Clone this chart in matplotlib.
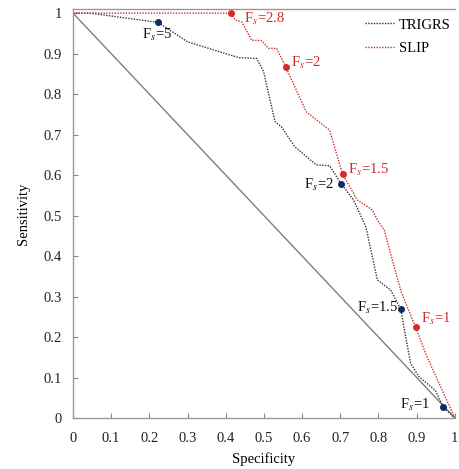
import matplotlib
matplotlib.use("Agg")
import matplotlib.pyplot as plt

plt.rcParams['font.family'] = ['Liberation Serif', 'DejaVu Serif']
plt.rcParams['mathtext.fontset'] = 'stix'

# ROC curves (specificity, sensitivity)
trigrs_x = [0, 0.044, 0.223, 0.25, 0.30, 0.434, 0.481, 0.499, 0.529, 0.546, 0.581,
            0.637, 0.672, 0.702, 0.735, 0.767, 0.797, 0.832, 0.858, 0.884, 0.906,
            0.949, 0.970, 1.0]
trigrs_y = [1.0, 1.0, 0.977, 0.96, 0.929, 0.89, 0.888, 0.856, 0.732, 0.719, 0.67,
            0.625, 0.623, 0.579, 0.538, 0.472, 0.341, 0.316, 0.269, 0.135, 0.102,
            0.068, 0.026, 0.0]
slip_x = [0, 0.414, 0.425, 0.442, 0.468, 0.494, 0.512, 0.533, 0.557, 0.611, 0.672,
          0.706, 0.745, 0.784, 0.797, 0.815, 0.841, 0.858, 0.875, 0.897, 0.927, 1.0]
slip_y = [1.0, 1.0, 0.983, 0.978, 0.933, 0.932, 0.913, 0.913, 0.867, 0.756, 0.711,
          0.602, 0.538, 0.514, 0.489, 0.464, 0.374, 0.316, 0.275, 0.225, 0.151, 0.0]

# factor-of-safety points
trigrs_fs = ['5', '2', '1.5', '1']
trigrs_fs_x = [0.223, 0.702, 0.858, 0.970]
trigrs_fs_y = [0.977, 0.579, 0.269, 0.026]
slip_fs = ['2.8', '2', '1.5', '1']
slip_fs_x = [0.414, 0.557, 0.706, 0.897]
slip_fs_y = [1.0, 0.867, 0.602, 0.225]

red = '#d42a2a'
navy = '#0d2a66'

fig = plt.figure(figsize=(4.59, 4.69), dpi=100)
ax = fig.add_axes([0.159, 0.1087, 0.832, 0.872])

ax.plot([0, 1], [1, 0], color='#7f7f7f', lw=1.0)
ax.plot(trigrs_x, trigrs_y, color='#333333', lw=1.0, ls=(0, (1, 1)), label='TRIGRS')
ax.plot(slip_x, slip_y, color=red, lw=1.0, ls=(0, (1, 1)), label='SLIP')
ax.plot(trigrs_fs_x, trigrs_fs_y, 'o', color=navy, ms=4, ls='none')
ax.plot(slip_fs_x, slip_fs_y, 'o', color=red, ms=4, ls='none')

fs = 10.5
# label placement (x, y, ha) next to each point
trigrs_lab = [(0.182, 0.946, 'left'), (0.683, 0.575, 'right'),
              (0.851, 0.272, 'right'), (0.935, 0.032, 'right')]
slip_lab = [(0.447, 0.985, 'left'), (0.571, 0.877, 'left'),
            (0.721, 0.612, 'left'), (0.912, 0.244, 'left')]
for v, (tx, ty, ha) in zip(trigrs_fs, trigrs_lab):
    ax.text(tx, ty, r'F$_s$=' + v, color='#111111', fontsize=fs, ha=ha, va='center')
for v, (tx, ty, ha) in zip(slip_fs, slip_lab):
    ax.text(tx, ty, r'F$_s$=' + v, color=red, fontsize=fs, ha=ha, va='center')

ax.set_xlim(0, 1)
ax.set_ylim(0, 1.01)
ax.set_xticks([i / 10 for i in range(11)])
ax.set_yticks([i / 10 for i in range(11)])
ax.set_xticklabels(['0', '0.1', '0.2', '0.3', '0.4', '0.5', '0.6', '0.7', '0.8', '0.9', '1'])
ax.set_yticklabels(['0', '0.1', '0.2', '0.3', '0.4', '0.5', '0.6', '0.7', '0.8', '0.9', '1'])
ax.tick_params(direction='in', length=3.5, width=0.8, color='#888888',
               labelsize=fs, colors='#222222')
ax.tick_params(axis='x', pad=10)
ax.tick_params(axis='y', pad=8)
for s in ['left', 'bottom', 'top']:
    ax.spines[s].set_color('#999999')
    ax.spines[s].set_linewidth(1.0)
ax.spines['right'].set_visible(False)

ax.set_xlabel('Specificity', fontsize=fs, labelpad=5)
ax.set_ylabel('Sensitivity', fontsize=fs, labelpad=10)

ax.legend(loc='upper right', frameon=False, fontsize=fs, handlelength=2.0,
          handletextpad=0.3, labelspacing=0.7, borderaxespad=0.1,
          bbox_to_anchor=(1.008, 0.995))

fig.savefig('out.png', dpi=100)
